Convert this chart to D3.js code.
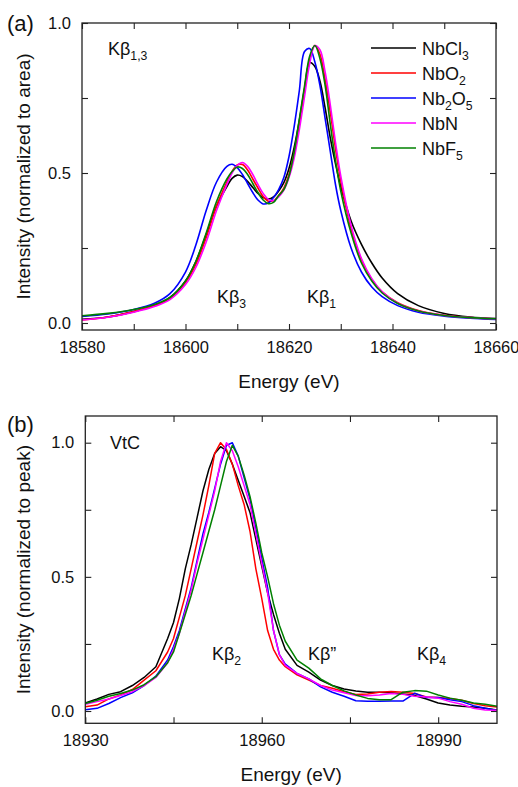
<!DOCTYPE html>
<html>
<head>
<meta charset="utf-8">
<script src="https://cdn.jsdelivr.net/npm/d3@7"></script>
<style>
  html, body { margin: 0; padding: 0; background: #fff; }
  svg { display: block; font-family: "Liberation Sans", Arial, sans-serif; }
</style>
</head>
<body>
<svg id="fig" width="518" height="787"></svg>
<script>
// ---- Kβ1,3 main lines (normalized to area) ----
const energyA = [18580, 18585, 18590, 18594, 18597, 18600, 18602, 18604, 18606, 18608,
  18609, 18610, 18611, 18612, 18613, 18614, 18615, 18616, 18617, 18618,
  18619, 18620, 18621, 18622, 18623, 18624, 18625, 18626, 18627, 18628,
  18629, 18630, 18632, 18634, 18636, 18638, 18641, 18645, 18650, 18655, 18660];

const nbcl3A = [0.012, 0.020, 0.038, 0.058, 0.085, 0.140, 0.205, 0.295, 0.390, 0.455,
  0.482, 0.493, 0.488, 0.472, 0.452, 0.432, 0.418, 0.413, 0.420, 0.440,
  0.468, 0.515, 0.585, 0.675, 0.780, 0.868, 0.855, 0.805, 0.715, 0.615,
  0.530, 0.455, 0.340, 0.262, 0.200, 0.150, 0.098, 0.058, 0.032, 0.020, 0.015];

const nbo2A = [0.010, 0.020, 0.038, 0.058, 0.082, 0.135, 0.195, 0.285, 0.390, 0.470,
  0.505, 0.527, 0.528, 0.510, 0.480, 0.450, 0.422, 0.406, 0.408, 0.425,
  0.450, 0.495, 0.565, 0.665, 0.775, 0.880, 0.925, 0.895, 0.810, 0.700,
  0.580, 0.475, 0.315, 0.210, 0.145, 0.104, 0.068, 0.042, 0.026, 0.018, 0.013];

const nb2o5A = [0.022, 0.030, 0.045, 0.066, 0.098, 0.170, 0.260, 0.375, 0.470, 0.522,
  0.529, 0.518, 0.495, 0.465, 0.435, 0.410, 0.397, 0.400, 0.418, 0.445,
  0.485, 0.555, 0.655, 0.775, 0.905, 0.915, 0.870, 0.790, 0.680, 0.570,
  0.460, 0.375, 0.250, 0.170, 0.120, 0.088, 0.058, 0.036, 0.023, 0.016, 0.012];

const nbnA = [0.010, 0.019, 0.036, 0.055, 0.078, 0.128, 0.185, 0.270, 0.375, 0.462,
  0.500, 0.525, 0.535, 0.522, 0.495, 0.462, 0.432, 0.412, 0.408, 0.420,
  0.443, 0.485, 0.550, 0.645, 0.755, 0.865, 0.925, 0.910, 0.835, 0.725,
  0.600, 0.490, 0.325, 0.215, 0.148, 0.104, 0.066, 0.040, 0.025, 0.018, 0.014];

const nbf5A = [0.024, 0.032, 0.045, 0.062, 0.085, 0.140, 0.205, 0.300, 0.405, 0.480,
  0.505, 0.520, 0.515, 0.495, 0.465, 0.435, 0.410, 0.398, 0.402, 0.425,
  0.445, 0.490, 0.570, 0.680, 0.790, 0.890, 0.925, 0.880, 0.790, 0.660,
  0.540, 0.440, 0.300, 0.200, 0.140, 0.100, 0.065, 0.040, 0.025, 0.018, 0.014];

// ---- valence-to-core lines (normalized to peak) ----
const energyB = [18930, 18932, 18934, 18936, 18938, 18940, 18942, 18944, 18945, 18946,
  18947, 18948, 18949, 18950, 18951, 18952, 18953, 18954, 18955, 18956,
  18957, 18958, 18959, 18960, 18961, 18962, 18963, 18964, 18966, 18968,
  18970, 18972, 18974, 18976, 18978, 18980, 18982, 18984, 18986, 18988,
  18990, 18992, 18994, 18996, 18998, 19000];

const nbcl3B = [0.030, 0.045, 0.062, 0.072, 0.095, 0.125, 0.165, 0.270, 0.330, 0.420,
  0.530, 0.620, 0.720, 0.820, 0.900, 0.960, 0.985, 0.970, 0.920, 0.860,
  0.800, 0.740, 0.640, 0.540, 0.440, 0.360, 0.290, 0.230, 0.170, 0.145,
  0.115, 0.095, 0.082, 0.075, 0.070, 0.070, 0.068, 0.063, 0.058, 0.045,
  0.030, 0.022, 0.018, 0.015, 0.010, 0.004];

const nbo2B = [0.016, 0.022, 0.045, 0.060, 0.080, 0.115, 0.150, 0.220, 0.270, 0.350,
  0.430, 0.530, 0.630, 0.730, 0.840, 0.960, 1.000, 0.975, 0.920, 0.840,
  0.770, 0.670, 0.530, 0.420, 0.300, 0.230, 0.190, 0.165, 0.135, 0.115,
  0.095, 0.085, 0.072, 0.062, 0.063, 0.070, 0.073, 0.070, 0.065, 0.052,
  0.050, 0.047, 0.040, 0.028, 0.020, 0.015];

const nb2o5B = [0.005, 0.010, 0.028, 0.050, 0.068, 0.095, 0.130, 0.190, 0.240, 0.300,
  0.380, 0.460, 0.560, 0.660, 0.740, 0.830, 0.920, 0.990, 1.000, 0.950,
  0.870, 0.790, 0.680, 0.570, 0.460, 0.300, 0.210, 0.175, 0.140, 0.120,
  0.090, 0.070, 0.055, 0.038, 0.036, 0.036, 0.037, 0.037, 0.066, 0.050,
  0.050, 0.042, 0.035, 0.020, 0.010, 0.002];

const nbnB = [0.025, 0.035, 0.045, 0.058, 0.072, 0.095, 0.125, 0.180, 0.230, 0.290,
  0.370, 0.450, 0.550, 0.640, 0.730, 0.820, 0.930, 1.000, 0.970, 0.910,
  0.840, 0.770, 0.660, 0.550, 0.440, 0.300, 0.210, 0.170, 0.140, 0.120,
  0.095, 0.078, 0.068, 0.058, 0.057, 0.060, 0.065, 0.062, 0.055, 0.052,
  0.048, 0.035, 0.025, 0.010, 0.004, 0.003];

const nbf5B = [0.028, 0.040, 0.055, 0.065, 0.078, 0.098, 0.128, 0.180, 0.220, 0.290,
  0.360, 0.430, 0.510, 0.590, 0.670, 0.750, 0.840, 0.930, 0.990, 0.950,
  0.880, 0.800, 0.700, 0.590, 0.500, 0.400, 0.320, 0.260, 0.190, 0.160,
  0.120, 0.095, 0.075, 0.060, 0.047, 0.042, 0.042, 0.070, 0.076, 0.074,
  0.060, 0.048, 0.040, 0.030, 0.025, 0.018];

// compound names: [text, "sub" for subscript pieces]
const compounds = [
  [["NbCl", ""], ["3", "sub"]],
  [["NbO", ""], ["2", "sub"]],
  [["Nb", ""], ["2", "sub"], ["O", ""], ["5", "sub"]],
  [["NbN", ""]],
  [["NbF", ""], ["5", "sub"]]
];
const lineColors = ["#000000", "#ff0000", "#0000ff", "#ff00ff", "#008000"];

const xTicksA = [18580, 18600, 18620, 18640, 18660];
const xTicksB = [18930, 18960, 18990];
const yTicks = [0.0, 0.5, 1.0];

const seriesA = [nbcl3A, nbo2A, nb2o5A, nbnA, nbf5A];
const seriesB = [nbcl3B, nbo2B, nb2o5B, nbnB, nbf5B];

const svg = d3.select("#fig");
const axisColor = "#222";

// text built from normal and subscript pieces
function richText(sel, pieces, subSize) {
  let lowered = false;
  pieces.forEach(([txt, kind]) => {
    const t = sel.append("tspan").text(txt);
    if (kind === "sub") {
      t.attr("font-size", subSize);
      if (!lowered) { t.attr("dy", 5); lowered = true; }
    } else if (lowered) {
      t.attr("dy", -5);
      lowered = false;
    }
  });
  return sel;
}

function panel(opts) {
  const { left, right, top, bottom, xDomain, yDomain, xStep, xLabels,
          energies, series, curve, strokeW, yTitle } = opts;
  const x = d3.scaleLinear().domain(xDomain).range([left, right]);
  const y = d3.scaleLinear().domain(yDomain).range([bottom, top]);
  const g = svg.append("g");

  const xAll = d3.range(xDomain[0], xDomain[1] + 0.001, xStep);
  const yAll = d3.range(0, yDomain[1] + 0.001, 0.25);
  const fmtX = v => xLabels.includes(v) ? String(v) : "";
  const fmtY = v => yTicks.some(t => Math.abs(t - v) < 1e-6) ? d3.format(".1f")(v) : "";

  const styleAxis = a => {
    a.select(".domain").remove();
    a.selectAll(".tick line").attr("stroke", axisColor).attr("stroke-width", 1.1);
    a.selectAll(".tick text").attr("fill", "#111")
      .attr("font-size", 16.5).attr("font-family", "Liberation Sans, Arial, sans-serif");
  };

  g.append("g").attr("transform", `translate(0,${bottom})`)
    .call(d3.axisBottom(x).tickValues(xAll).tickFormat(fmtX).tickSizeInner(-6).tickSizeOuter(0).tickPadding(11))
    .call(styleAxis);
  g.append("g").attr("transform", `translate(0,${top})`)
    .call(d3.axisTop(x).tickValues(xAll).tickFormat("").tickSizeInner(-6).tickSizeOuter(0))
    .call(styleAxis);
  g.append("g").attr("transform", `translate(${left},0)`)
    .call(d3.axisLeft(y).tickValues(yAll).tickFormat(fmtY).tickSizeInner(-6).tickSizeOuter(0).tickPadding(11))
    .call(styleAxis);
  g.append("g").attr("transform", `translate(${right},0)`)
    .call(d3.axisRight(y).tickValues(yAll).tickFormat("").tickSizeInner(-6).tickSizeOuter(0))
    .call(styleAxis);

  const line = d3.line()
    .x((d, i) => x(energies[i]))
    .y(d => y(d))
    .curve(curve);

  g.append("g").selectAll("path")
    .data(series)
    .join("path")
    .attr("d", d => line(d))
    .attr("fill", "none")
    .attr("stroke", (d, i) => lineColors[i])
    .attr("stroke-width", strokeW)
    .attr("stroke-linejoin", "round");

  g.append("rect")
    .attr("x", left).attr("y", top)
    .attr("width", right - left).attr("height", bottom - top)
    .attr("fill", "none").attr("stroke", axisColor).attr("stroke-width", 1.3);

  g.append("text")
    .attr("x", (left + right) / 2).attr("y", bottom + 58)
    .attr("text-anchor", "middle").attr("font-size", 19).attr("fill", "#111")
    .text("Energy (eV)");

  g.append("text")
    .attr("transform", `translate(30,${(top + bottom) / 2}) rotate(-90)`)
    .attr("text-anchor", "middle").attr("font-size", 19).attr("fill", "#111")
    .text(yTitle);

  return { x, y, g };
}

function label(x, y, pieces, size) {
  const t = svg.append("text").attr("x", x).attr("y", y).attr("font-size", size).attr("fill", "#111");
  richText(t, pieces, size * 0.68);
  return t;
}

// ---------- panel (a) ----------
panel({
  left: 82, right: 496, top: 23, bottom: 330,
  xDomain: [18580, 18660], yDomain: [-0.0233, 1.0], xStep: 10, xLabels: xTicksA,
  energies: energyA, series: seriesA, curve: d3.curveCatmullRom.alpha(0.5), strokeW: 1.6,
  yTitle: "Intensity (normalized to area)"
});

svg.append("text").attr("x", 7).attr("y", 31).attr("font-size", 22).attr("fill", "#111").text("(a)");

label(108, 55, [["Kβ", ""], ["1,3", "sub"]], 18);
label(217, 303, [["Kβ", ""], ["3", "sub"]], 18);
label(307, 303, [["Kβ", ""], ["1", "sub"]], 18);

// legend
const legendRows = [48, 73, 98, 123, 148];
compounds.forEach((pieces, i) => {
  svg.append("line")
    .attr("x1", 371).attr("x2", 416)
    .attr("y1", legendRows[i]).attr("y2", legendRows[i])
    .attr("stroke", lineColors[i]).attr("stroke-width", 1.6);
  label(422, legendRows[i] + 6.5, pieces, 18);
});

// ---------- panel (b) ----------
panel({
  left: 85.3, right: 497, top: 416, bottom: 723.3,
  xDomain: [18930, 19000], yDomain: [-0.0458, 1.0995], xStep: 15, xLabels: xTicksB,
  energies: energyB, series: seriesB, curve: d3.curveLinear, strokeW: 1.5,
  yTitle: "Intensity (normalized to peak)"
});

svg.append("text").attr("x", 7).attr("y", 432).attr("font-size", 22).attr("fill", "#111").text("(b)");
label(110, 449, [["VtC", ""]], 18);
label(212, 660, [["Kβ", ""], ["2", "sub"]], 18);
label(308, 660, [["Kβ”", ""]], 18);
label(417, 660, [["Kβ", ""], ["4", "sub"]], 18);
</script>
</body>
</html>
